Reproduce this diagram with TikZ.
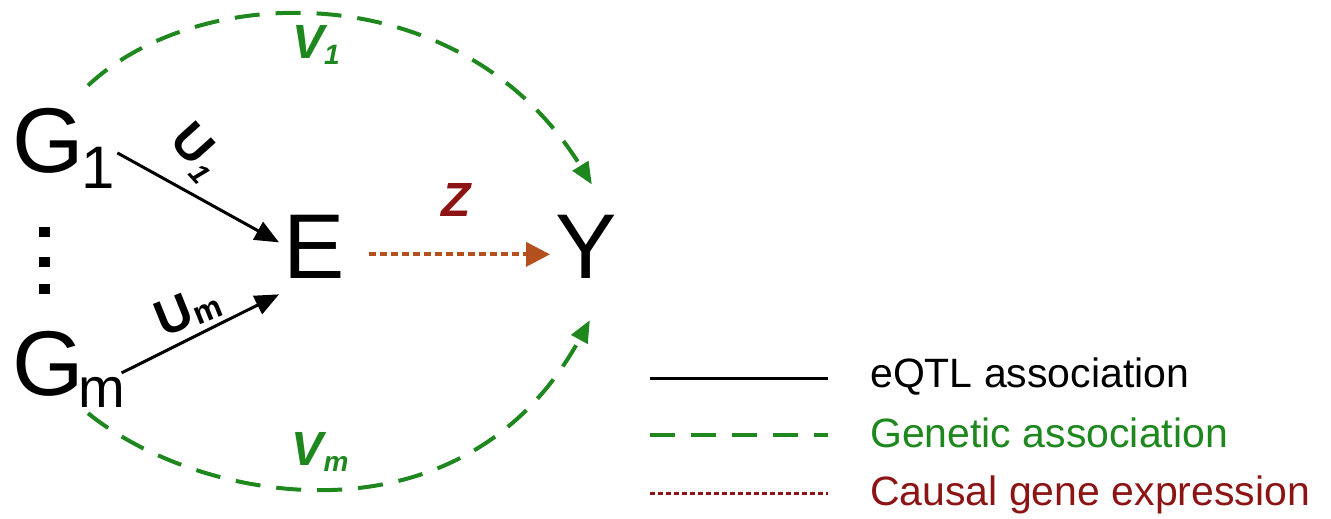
\documentclass[tikz,border=0pt]{standalone}
\usepackage{fontspec}
\setmainfont{Liberation Sans}
\usetikzlibrary{arrows.meta,calc}
\definecolor{assocgreen}{RGB}{30,135,30}
\definecolor{causalred}{RGB}{140,20,20}
\definecolor{arrowbrown}{RGB}{180,80,30}

\begin{document}
\begin{tikzpicture}[x=1pt,y=-1pt,
  big/.style={inner sep=0pt, anchor=base west, font=\fontsize{92}{92}\selectfont},
  lbl/.style={inner sep=0pt, font=\bfseries\fontsize{50}{50}\selectfont},
  eqtl/.style={line width=3pt, -{Triangle[length=24pt,width=20pt]}},
  genetic/.style={assocgreen, line width=4pt, dash pattern=on 25pt off 16pt, -{Triangle[length=22pt,width=18pt]}},
  causal/.style={arrowbrown, line width=4pt, dash pattern=on 7pt off 4pt, -{Triangle[length=24pt,width=24pt]}},
  legtext/.style={inner sep=0pt, anchor=base west, font=\fontsize{41}{41}\selectfont}]
\useasboundingbox (0,0) rectangle (1331,519);

% variables
\node[big] (G1) at (12,172) {G\kern-2pt\raisebox{-16pt}{\fontsize{60}{60}\selectfont 1}};
\node[big] (Gm) at (12,395) {G\kern-5pt\raisebox{-12pt}{\fontsize{56}{56}\selectfont m}};
\node[big] (E)  at (283,278) {E};
\node[big] (Y)  at (555,278) {Y};

% vertical ellipsis between the instruments
\foreach \yy in {232,262,289}
  \fill (39,\yy-5) rectangle (50,\yy+5);

% eQTL effects
\draw[eqtl] ($(G1.east)+(2,5)$) -- ($(E.west)+(-4,-4)$);
\draw[eqtl] ($(Gm.east)+(-4,4)$) -- ($(E.west)+(-4,48)$);
\node[lbl, rotate=-48] (u1) at (196,152) {U\kern1pt\raisebox{-8pt}{\fontsize{28}{28}\selectfont\itshape 1}};
\node[lbl, rotate=22] (um) at (188,310) {U\kern1pt\raisebox{-2pt}{\fontsize{32}{32}\selectfont m}};

% causal effect
\draw[causal] ($(E.east)+(24,8)$) -- ($(Y.west)+(-5,8)$);
\node[lbl, causalred, font=\bfseries\itshape\fontsize{48}{48}\selectfont] (z) at (456,200) {Z};

% direct genetic associations
\draw[genetic] ($(G1.north west)+(76,-22)$) .. controls (200,-20) and (463,-25) .. ($(Y.north)+(6,-30)$);
\draw[genetic] ($(Gm.south west)+(76,6)$) .. controls (200,504) and (463,552) .. ($(Y.south)+(4,42)$);
\node[lbl, assocgreen, font=\bfseries\itshape\fontsize{48}{48}\selectfont] (v1) at (316,45) {V\raisebox{-6pt}{\fontsize{28}{28}\selectfont 1}};
\node[lbl, assocgreen, font=\bfseries\itshape\fontsize{48}{48}\selectfont] (vm) at (320,452) {V\raisebox{-6pt}{\fontsize{28}{28}\selectfont m}};

% legend
\coordinate (la1) at (650,378); \coordinate (lb1) at (828,378);
\coordinate (la2) at (650,435); \coordinate (lb2) at (828,435);
\coordinate (la3) at (650,493); \coordinate (lb3) at (828,493);
\draw[line width=3pt] (la1) -- (lb1);
\draw[assocgreen, line width=4pt, dash pattern=on 25pt off 16pt] (la2) -- (lb2);
\draw[causalred, line width=3pt, dash pattern=on 5pt off 3pt] (la3) -- (lb3);
\node[legtext] (t1) at (870,387) {eQTL association};
\node[legtext, assocgreen] (t2) at (870,447) {Genetic association};
\node[legtext, causalred] (t3) at (870,505) {Causal gene expression};
\end{tikzpicture}
\end{document}
